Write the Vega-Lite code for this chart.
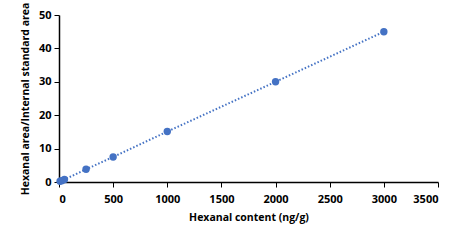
{
  "$schema": "https://vega.github.io/schema/vega-lite/v6.json",
  "width": 379,
  "height": 167,
  "autosize": {"type": "none"},
  "padding": {"left": 59, "top": 15, "right": 27, "bottom": 58},
  "background": "white",
  "config": {
    "view": {"stroke": null},
    "font": "Open Sans"
  },
  "data": {
    "values": [
      {"x": 10, "y": 0.2},
      {"x": 25, "y": 0.4},
      {"x": 50, "y": 0.75},
      {"x": 250, "y": 3.8},
      {"x": 500, "y": 7.5},
      {"x": 1000, "y": 15.1},
      {"x": 2000, "y": 30.0},
      {"x": 3000, "y": 45.0}
    ]
  },
  "encoding": {
    "x": {
      "field": "x", "type": "quantitative",
      "scale": {"domain": [0, 3500], "nice": false},
      "axis": {
        "values": [0, 500, 1000, 1500, 2000, 2500, 3000, 3500],
        "format": "d",
        "grid": false, "domainColor": "#000", "domainWidth": 1.5,
        "tickColor": "#000", "tickSize": 5, "tickWidth": 1,
        "labelFont": "Open Sans", "labelFontWeight": "bold", "labelFontSize": 11, "labelColor": "#000",
        "labelPadding": 6,
        "title": "Hexanal content (ng/g)",
        "titleFont": "Open Sans", "titleFontWeight": "bold", "titleFontSize": 10.5, "titleColor": "#000",
        "titlePadding": 8
      }
    },
    "y": {
      "field": "y", "type": "quantitative",
      "scale": {"domain": [0, 50], "nice": false},
      "axis": {
        "values": [0, 10, 20, 30, 40, 50],
        "format": "d",
        "grid": false, "domainColor": "#000", "domainWidth": 1.5,
        "tickColor": "#000", "tickSize": 5, "tickWidth": 1,
        "labelFont": "Open Sans", "labelFontWeight": "bold", "labelFontSize": 11, "labelColor": "#000",
        "labelPadding": 3,
        "title": "Hexanal area/Internal standard area",
        "titleFont": "Open Sans", "titleFontWeight": "bold", "titleFontSize": 10.5, "titleColor": "#000",
        "titlePadding": 8
      }
    }
  },
  "layer": [
    {
      "mark": {"type": "line", "color": "#4472C4", "strokeWidth": 2, "strokeDash": [1.5, 2], "strokeCap": "butt"}
    },
    {
      "mark": {"type": "point", "filled": true, "color": "#4472C4", "opacity": 1, "size": 55}
    }
  ]
}
